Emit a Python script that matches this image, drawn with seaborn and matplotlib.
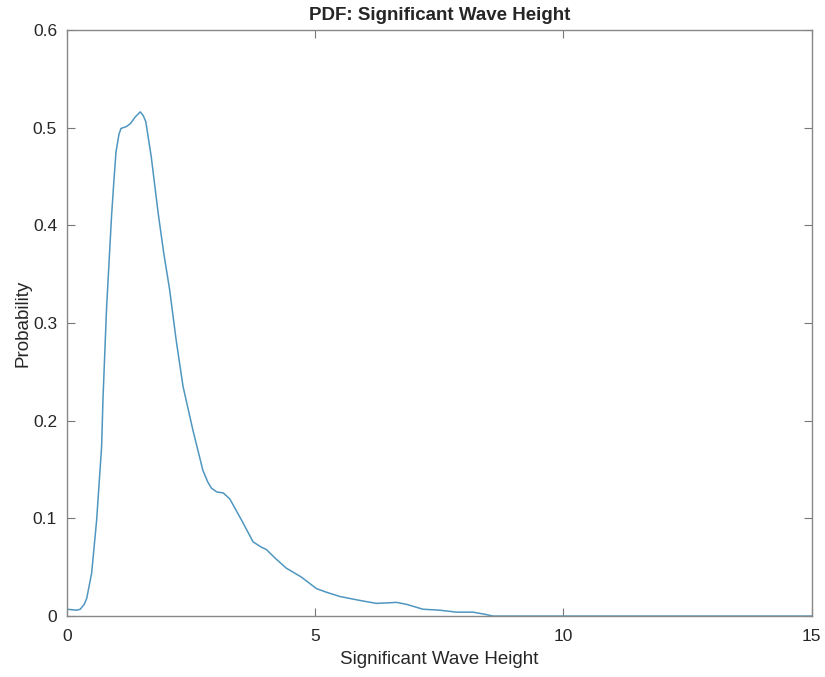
import matplotlib.pyplot as plt
import seaborn as sns
import pandas as pd

# PDF of significant wave height
height = [0.0, 0.1, 0.2, 0.27, 0.35, 0.4, 0.5, 0.6, 0.7, 0.73, 0.8, 0.9, 0.95,
          0.99, 1.05, 1.09, 1.2, 1.28, 1.38, 1.48, 1.54, 1.59, 1.70, 1.84,
          1.95, 2.07, 2.2, 2.34, 2.54, 2.74, 2.84, 2.91, 3.02, 3.15, 3.28,
          3.52, 3.75, 3.9, 4.02, 4.2, 4.42, 4.72, 4.9, 5.03, 5.25, 5.50, 5.90,
          6.23, 6.45, 6.64, 6.84, 7.17, 7.51, 7.85, 8.18, 8.4, 8.58, 10.0,
          12.0, 15.0]
prob = [0.007, 0.0065, 0.006, 0.007, 0.012, 0.018, 0.044, 0.098, 0.173, 0.225,
        0.315, 0.409, 0.447, 0.475, 0.493, 0.499, 0.501, 0.504, 0.511, 0.516,
        0.512, 0.506, 0.470, 0.412, 0.372, 0.334, 0.283, 0.235, 0.19, 0.149,
        0.137, 0.131, 0.127, 0.126, 0.120, 0.098, 0.076, 0.071, 0.068, 0.059,
        0.049, 0.040, 0.033, 0.028, 0.024, 0.020, 0.016, 0.013, 0.0135, 0.014,
        0.012, 0.007, 0.006, 0.004, 0.004, 0.002, 0.0, 0.0, 0.0, 0.0]

df = pd.DataFrame({'height': height, 'prob': prob})

sns.set_style('white')
plt.rcParams['font.family'] = ['Liberation Sans', 'DejaVu Sans']

fig = plt.figure(figsize=(8.25, 6.77), dpi=100)
ax = fig.add_axes([0.081, 0.090, 0.903, 0.866])

sns.lineplot(data=df, x='height', y='prob', ax=ax, color='#4f96c0', linewidth=1.1)

ax.set_xlim(0, 15)
ax.set_ylim(0, 0.6)
ax.set_xticks([0, 5, 10, 15])
ax.set_yticks([0, 0.1, 0.2, 0.3, 0.4, 0.5, 0.6])
ax.set_yticklabels(['0', '0.1', '0.2', '0.3', '0.4', '0.5', '0.6'])
ax.tick_params(direction='in', bottom=True, left=True, top=True, right=True,
               length=6, width=0.8, colors='#777777', labelcolor='#262626',
               labelsize=12.5)
ax.tick_params(axis='x', pad=9)
ax.tick_params(axis='y', pad=7)
for s in ax.spines.values():
    s.set_color('#888888')
    s.set_linewidth(1.0)

ax.set_xlabel('Significant Wave Height', fontsize=13.5, color='#262626', labelpad=5)
ax.set_ylabel('Probability', fontsize=13.5, color='#262626', labelpad=1)
ax.set_title('PDF: Significant Wave Height', fontsize=13.5, fontweight='bold', pad=7)

fig.savefig('out.png', dpi=100)
